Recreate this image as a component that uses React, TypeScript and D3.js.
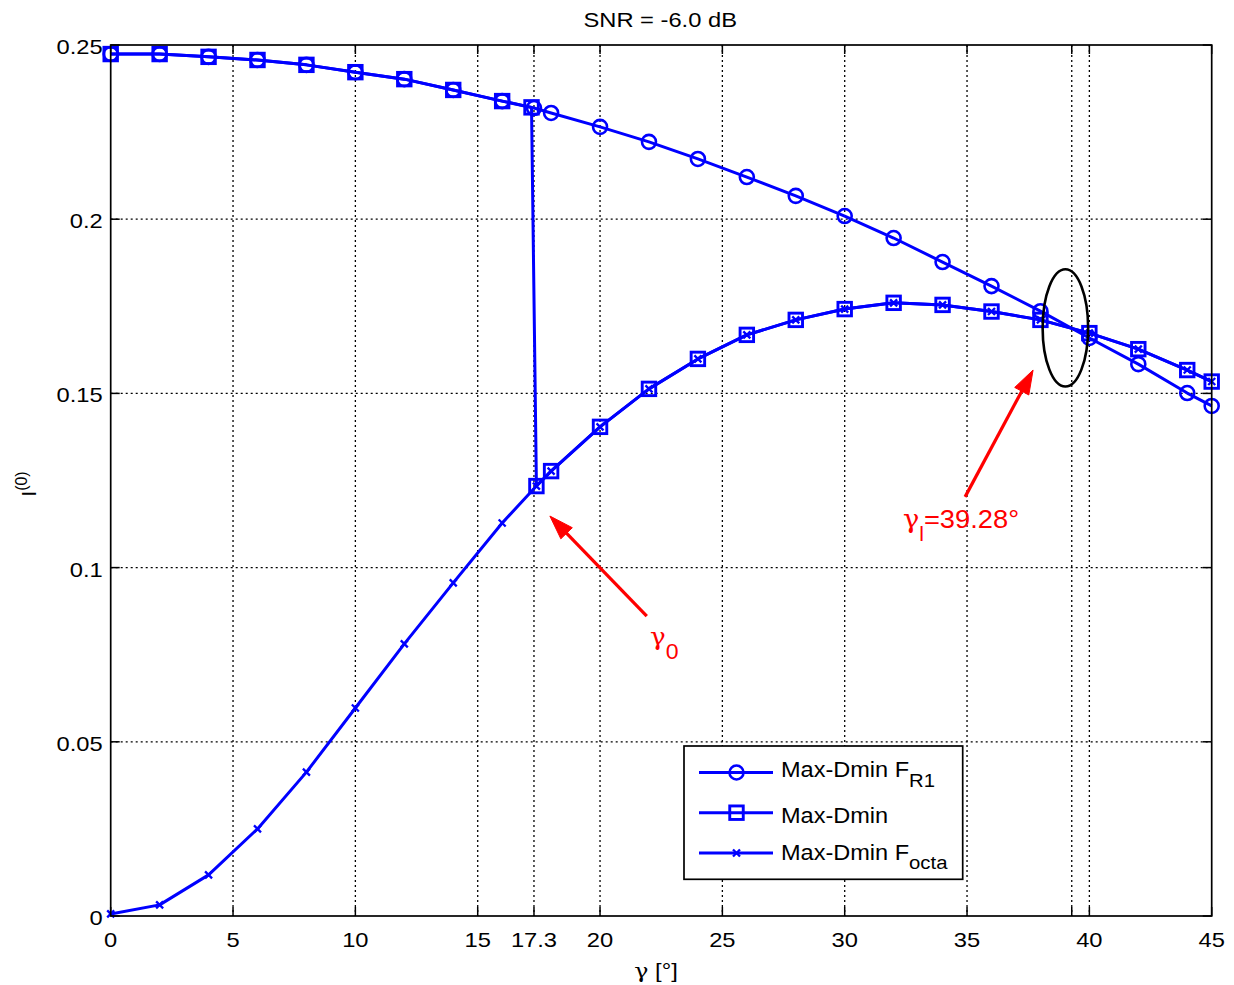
import React from 'react';
import * as d3 from 'd3';

const W = 1234;
const H = 985;
const PL = 110.7, PR = 1211.7, PT = 45, PB = 916;

// Tick values / labels
const xTicks = [0, 5, 10, 15, 17.3, 20, 25, 30, 35, 39.28, 40, 45];
const xTickLabels = ['0', '5', '10', '15', '17.3', '20', '25', '30', '35', '', '40', '45'];
const yTicks = [0, 0.05, 0.1, 0.15, 0.2, 0.25];
const yTickLabels = ['0', '0.05', '0.1', '0.15', '0.2', '0.25'];

// Series: Max-Dmin F_R1 (circles)
const fr1X = [0, 2, 4, 6, 8, 10, 12, 14, 16, 17.3, 18, 20, 22, 24, 26, 28, 30, 32, 34, 36, 38, 40, 42, 44, 45];
const fr1Y = [0.2474, 0.2474, 0.2466, 0.2457, 0.2443, 0.2422, 0.2402, 0.2371, 0.2339, 0.2319, 0.2305, 0.2265, 0.2222, 0.2173, 0.2121, 0.2067, 0.2009, 0.1946, 0.1877, 0.1808, 0.1736, 0.1659, 0.1584, 0.1501, 0.1464];

// Series: Max-Dmin (squares)
const mdX = [0, 2, 4, 6, 8, 10, 12, 14, 16, 17.2, 17.4, 18, 20, 22, 24, 26, 28, 30, 32, 34, 36, 38, 40, 42, 44, 45];
const mdY = [0.2474, 0.2474, 0.2466, 0.2457, 0.2443, 0.2422, 0.2402, 0.2371, 0.2339, 0.2321, 0.1234, 0.1277, 0.1404, 0.1513, 0.1599, 0.1668, 0.1711, 0.1742, 0.1760, 0.1754, 0.1735, 0.1711, 0.1673, 0.1627, 0.1567, 0.1534];

// Series: Max-Dmin F_octa (x markers)
const octaX = [0, 2, 4, 6, 8, 10, 12, 14, 16, 17.4, 18, 20, 22, 24, 26, 28, 30, 32, 34, 36, 38, 40, 42, 44, 45];
const octaY = [0.0006, 0.0032, 0.0118, 0.025, 0.0413, 0.0597, 0.0781, 0.0956, 0.1128, 0.1234, 0.1277, 0.1404, 0.1513, 0.1599, 0.1668, 0.1711, 0.1742, 0.1760, 0.1754, 0.1735, 0.1711, 0.1673, 0.1627, 0.1567, 0.1534];

// Annotations (data coordinates)
const arrow0 = { x1: 21.91, y1: 0.0861, x2: 17.95, y2: 0.1148 };
const arrowL = { x1: 34.92, y1: 0.1203, x2: 37.70, y2: 0.1567 };
const ellipseL = { cx: 39.02, cy: 0.1688, rx: 0.93, ry: 0.01684 };
const label0 = { x: 22.04, y: 0.0778 };
const labelL = { x: 32.38, y: 0.1114 };

const BLUE = '#0000ff';
const RED = '#ff0000';
const FONT = '"Liberation Sans", Arial, Helvetica, sans-serif';
const GREEK = '"DejaVu Serif", "Liberation Serif", serif';

const x = d3.scaleLinear().domain([0, 45]).range([PL, PR]);
const y = d3.scaleLinear().domain([0, 0.25]).range([PB, PT]);

type Pt = [number, number];
const zip = (xs: number[], ys: number[]): Pt[] => xs.map((v, i) => [v, ys[i]]);
const line = d3.line<Pt>().x(d => x(d[0])).y(d => y(d[1]));

const LW = 3;

function Circle({ cx, cy }: { cx: number; cy: number }) {
  return <circle cx={cx} cy={cy} r={7} fill="none" stroke={BLUE} strokeWidth={2.6} />;
}
function Square({ cx, cy }: { cx: number; cy: number }) {
  const s = 13.5;
  return <rect x={cx - s / 2} y={cy - s / 2} width={s} height={s} fill="none" stroke={BLUE} strokeWidth={2.9} />;
}
function Cross({ cx, cy }: { cx: number; cy: number }) {
  const s = 3.5;
  return (
    <path d={`M${cx - s},${cy - s}L${cx + s},${cy + s}M${cx - s},${cy + s}L${cx + s},${cy - s}`} stroke={BLUE} strokeWidth={2.3} fill="none" />
  );
}

function Arrow({ a }: { a: { x1: number; y1: number; x2: number; y2: number } }) {
  const X1 = x(a.x1), Y1 = y(a.y1), X2 = x(a.x2), Y2 = y(a.y2);
  const ang = Math.atan2(Y2 - Y1, X2 - X1);
  const L = 24, Wd = 8;
  const bx = X2 - L * Math.cos(ang), by = Y2 - L * Math.sin(ang);
  const px = -Math.sin(ang), py = Math.cos(ang);
  const head = `M${X2},${Y2}L${bx + px * Wd},${by + py * Wd}L${bx - px * Wd},${by - py * Wd}Z`;
  return (
    <g>
      <line x1={X1} y1={Y1} x2={bx + 4 * Math.cos(ang)} y2={by + 4 * Math.sin(ang)} stroke={RED} strokeWidth={3.2} />
      <path d={head} fill={RED} stroke={RED} strokeWidth={1} />
    </g>
  );
}

export default function App() {
  React.useEffect(() => {
    document.body.style.margin = '0';
  }, []);
  const fr1 = zip(fr1X, fr1Y);
  const md = zip(mdX, mdY);
  const oc = zip(octaX, octaY);
  const tickLen = 9;
  const sx = 1.13;
  const lsx = 1.07;

  return (
    <svg width={W} height={H} style={{ position: 'absolute', left: 0, top: 0, display: 'block', background: '#fff' }} fontFamily={FONT}>
      <rect x={0} y={0} width={W} height={H} fill="#fff" />
      {/* grid */}
      <g stroke="#000" strokeWidth={1.3} strokeDasharray="2,3">
        {xTicks.map((t, i) => (t > 0 && t < 45 ? <line key={'gx' + i} x1={x(t)} x2={x(t)} y1={PT} y2={PB} /> : null))}
        {yTicks.map((t, i) => (t > 0 && t < 0.25 ? <line key={'gy' + i} x1={PL} x2={PR} y1={y(t)} y2={y(t)} /> : null))}
      </g>
      {/* ticks */}
      <g stroke="#000" strokeWidth={1.5}>
        {xTicks.map((t, i) => (
          <g key={'tx' + i}>
            <line x1={x(t)} x2={x(t)} y1={PB} y2={PB - tickLen} />
            <line x1={x(t)} x2={x(t)} y1={PT} y2={PT + tickLen} />
          </g>
        ))}
        {yTicks.map((t, i) => (
          <g key={'ty' + i}>
            <line x1={PL} x2={PL + tickLen} y1={y(t)} y2={y(t)} />
            <line x1={PR} x2={PR - tickLen} y1={y(t)} y2={y(t)} />
          </g>
        ))}
      </g>
      {/* tick labels */}
      {xTicks.map((t, i) => (
        <text key={'lx' + i} transform={`translate(${x(t)},${PB + 31}) scale(${sx},1)`} textAnchor="middle" fontSize={21} fill="#000">
          {xTickLabels[i]}
        </text>
      ))}
      {yTicks.map((t, i) => (
        <text key={'ly' + i} transform={`translate(${PL - 8},${y(t) + 9}) scale(${sx},1)`} textAnchor="end" fontSize={21} fill="#000">
          {yTickLabels[i]}
        </text>
      ))}
      {/* series */}
      <path d={line(fr1) || ''} fill="none" stroke={BLUE} strokeWidth={LW} strokeLinejoin="round" />
      {fr1.map((d, i) => <Circle key={'c' + i} cx={x(d[0])} cy={y(d[1])} />)}
      <path d={line(md) || ''} fill="none" stroke={BLUE} strokeWidth={LW} strokeLinejoin="round" />
      {md.map((d, i) => <Square key={'s' + i} cx={x(d[0])} cy={y(d[1])} />)}
      <path d={line(oc) || ''} fill="none" stroke={BLUE} strokeWidth={LW} strokeLinejoin="round" />
      {oc.map((d, i) => <Cross key={'x' + i} cx={x(d[0])} cy={y(d[1])} />)}
      {/* axes box */}
      <rect x={PL} y={PT} width={PR - PL} height={PB - PT} fill="none" stroke="#000" strokeWidth={1.7} />
      {/* title */}
      <text transform={`translate(${(PL + PR) / 2 - 1},27) scale(${sx},1)`} textAnchor="middle" fontSize={21} fill="#000">
        SNR = -6.0 dB
      </text>
      {/* axis labels */}
      <text transform={`translate(656,978) scale(${sx},1)`} textAnchor="middle" fontSize={21} fill="#000">
        <tspan fontFamily={GREEK}>γ</tspan> [°]
      </text>
      <text transform={`translate(36,484) rotate(-90)`} textAnchor="middle" fontSize={21} fill="#000">
        I<tspan fontSize={16} dy={-9}>(0)</tspan>
      </text>
      {/* annotations */}
      <ellipse cx={x(ellipseL.cx)} cy={y(ellipseL.cy)} rx={x(ellipseL.rx) - x(0)} ry={y(0) - y(ellipseL.ry)} fill="none" stroke="#000" strokeWidth={2.6} />
      <Arrow a={arrow0} />
      <Arrow a={arrowL} />
      <text transform={`translate(${x(label0.x)},${y(label0.y)}) scale(1.05,1)`} fontSize={25} fill={RED}>
        <tspan fontFamily={GREEK}>γ</tspan><tspan fontSize={22} dy={14}>0</tspan>
      </text>
      <text transform={`translate(${x(labelL.x)},${y(labelL.y)}) scale(1.05,1)`} fontSize={26} fill={RED}>
        <tspan fontFamily={GREEK}>γ</tspan><tspan fontSize={20} dy={13}>l</tspan>
        <tspan dy={-13}>=39.28°</tspan>
      </text>
      {/* legend */}
      <g>
        <rect x={684} y={746} width={278.7} height={133.3} fill="#fff" stroke="#000" strokeWidth={1.7} />
        <line x1={699} x2={773} y1={772.5} y2={772.5} stroke={BLUE} strokeWidth={LW} />
        <Circle cx={736.5} cy={772.5} />
        <line x1={699} x2={773} y1={812.7} y2={812.7} stroke={BLUE} strokeWidth={LW} />
        <Square cx={736.5} cy={812.7} />
        <line x1={699} x2={773} y1={853} y2={853} stroke={BLUE} strokeWidth={LW} />
        <Cross cx={736.5} cy={853} />
        <text transform={`translate(781,777) scale(${lsx},1)`} fontSize={22} fill="#000">
          Max-Dmin F<tspan fontSize={19} dy={9.5}>R1</tspan>
        </text>
        <text transform={`translate(781,823) scale(${lsx},1)`} fontSize={22} fill="#000">Max-Dmin</text>
        <text transform={`translate(781,860) scale(${lsx},1)`} fontSize={22} fill="#000">
          Max-Dmin F<tspan fontSize={19} dy={8.5}>octa</tspan>
        </text>
      </g>
    </svg>
  );
}
